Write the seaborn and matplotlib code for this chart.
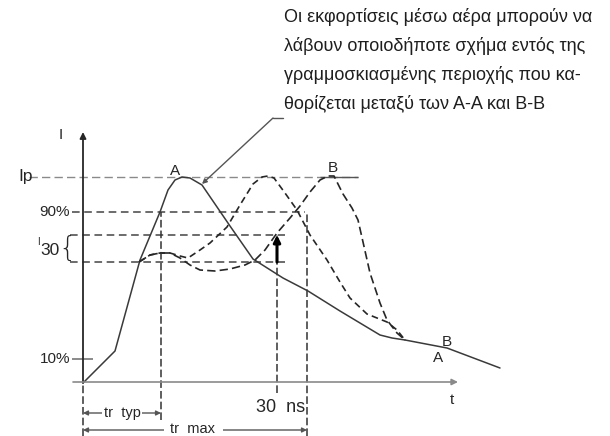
import matplotlib
matplotlib.use("Agg")
import matplotlib.pyplot as plt
import pandas as pd
import seaborn as sns

# Schematic drawing units: time grows to the right, current grows upward,
# origin at the start of the discharge.
curve_a_t = [0, 32, 57, 77, 85, 92, 99, 107, 119, 147, 170, 200, 225, 257, 297, 309, 322]
curve_a_i = [0, 32, 123, 171, 193, 203, 206, 205, 198, 157, 124, 105, 92, 72, 48, 45, 43]

curve_mid_t = [56, 67, 77, 87, 97, 105, 117, 127, 144, 157, 170, 179, 185, 191, 202,
               214, 227, 244, 257, 267, 284, 304, 314, 322]
curve_mid_i = [121, 128, 130, 130, 127, 125, 133, 140, 156, 178, 199, 206, 207, 205, 190,
               173, 148, 123, 101, 85, 69, 61, 53, 43]

curve_b_t = [56, 67, 77, 87, 97, 107, 117, 132, 147, 162, 172, 182, 194, 207, 217, 227,
             237, 245, 251, 260, 269, 275, 280, 287, 297, 304, 314, 322]
curve_b_i = [121, 128, 130, 130, 125, 118, 113, 112, 114, 118, 123, 133, 150, 165, 177, 191,
             203, 207, 207, 189, 175, 163, 141, 110, 80, 63, 50, 43]

tail_t = [322, 364, 417]
tail_i = [43, 35, 15]

# Reference current levels
level_ip = 206
level_90 = 171
level_i30_high = 148
level_i30_low = 121
level_10 = 24

# Reference instants
t_rise_typ = 78
t_30ns = 194
t_rise_max = 224

note_lines = [
    "Οι εκφορτίσεις μέσω αέρα μπορούν να",
    "λάβουν οποιοδήποτε σχήμα εντός της",
    "γραμμοσκιασμένης περιοχής που κα-",
    "θορίζεται μεταξύ των Α-Α και Β-Β",
]

sns.set_theme(style="white")
plt.rcParams["font.family"] = ["Liberation Sans", "DejaVu Sans"]

fig = plt.figure(figsize=(6.1, 4.36), dpi=100)
ax = fig.add_axes([0, 0, 1, 1])
ax.set_xlim(-83, 527)
ax.set_ylim(-53, 383)
ax.axis("off")

ink = "#262626"
grey = "#8a8a8a"

# Level lines
ax.hlines(level_ip, -54, 275, color=grey, lw=1.0, linestyles=(0, (6, 3)))
ax.hlines(level_ip, 237, 275, color="#555555", lw=1.0)
ax.hlines(level_90, -11, 222, color="#444444", lw=1.1, linestyles=(0, (5, 3)))
ax.hlines(level_i30_high, -13, 202, color="#444444", lw=1.1, linestyles=(0, (5, 3)))
ax.hlines(level_i30_low, -13, 202, color="#444444", lw=1.1, linestyles=(0, (5, 3)))
ax.hlines(level_10, -11, 10, color=grey, lw=1.4)

# Vertical markers
ax.vlines(t_rise_typ, -37, level_90, color="#333333", lw=1.1, linestyles=(0, (5, 2)))
ax.vlines(t_30ns, -10, level_i30_high, color="#333333", lw=1.1, linestyles=(0, (5, 2)))
ax.vlines(t_rise_max, -53, level_90, color="#333333", lw=1.1, linestyles=(0, (5, 2)))
ax.vlines(0, -53, 0, color="#333333", lw=1.1, linestyles=(0, (5, 2)))

# Axes with arrows
ax.annotate("", xy=(0, 251), xytext=(0, 0),
            arrowprops=dict(arrowstyle="-|>", color=ink, lw=1.3,
                            mutation_scale=9, shrinkA=0, shrinkB=0))
ax.annotate("", xy=(375, 1), xytext=(-10, 1),
            arrowprops=dict(arrowstyle="-|>", color=grey, lw=1.2,
                            mutation_scale=9, shrinkA=0, shrinkB=0))

# Waveforms
sns.lineplot(x=curve_a_t, y=curve_a_i, sort=False, estimator=None,
             color="#3a3a3a", lw=1.1, ax=ax)
sns.lineplot(x=tail_t, y=tail_i, sort=False, estimator=None,
             color="#3a3a3a", lw=1.1, ax=ax)
sns.lineplot(x=curve_mid_t, y=curve_mid_i, sort=False, estimator=None,
             color=ink, lw=1.2, linestyle=(0, (4, 2.5)), ax=ax)
sns.lineplot(x=curve_b_t, y=curve_b_i, sort=False, estimator=None,
             color=ink, lw=1.2, linestyle=(0, (5, 2.5)), ax=ax)

# I30 arrow at 30 ns
ax.annotate("", xy=(t_30ns, level_i30_high), xytext=(t_30ns, level_i30_low),
            arrowprops=dict(arrowstyle="-|>", color="black", lw=2.2,
                            mutation_scale=10, shrinkA=0, shrinkB=0))

# Leader from the note to the waveform
ax.plot([200, 190], [265, 265], color="#555555", lw=1.0)
ax.annotate("", xy=(119, 199), xytext=(190, 265),
            arrowprops=dict(arrowstyle="-|>", color="#555555", lw=1.0,
                            mutation_scale=7, shrinkA=0, shrinkB=0))

# Rise time brackets
for y, t_end in [(-30, t_rise_typ), (-47, t_rise_max)]:
    ax.annotate("", xy=(0, y), xytext=(t_end / 2, y),
                arrowprops=dict(arrowstyle="-|>", color="#555555", lw=1.0,
                                mutation_scale=7, shrinkA=0, shrinkB=0))
    ax.annotate("", xy=(t_end, y), xytext=(t_end / 2, y),
                arrowprops=dict(arrowstyle="-|>", color="#555555", lw=1.0,
                                mutation_scale=7, shrinkA=0, shrinkB=0))
ax.text(t_rise_typ / 2, -30, "tr  typ", ha="center", va="center", fontsize=10.5,
        color=ink, bbox=dict(fc="white", ec="none", pad=1.5))
ax.text(110, -46, "tr  max", ha="center", va="center", fontsize=10.5,
        color=ink, bbox=dict(fc="white", ec="none", pad=5))

# Labels
lab = dict(color=ink, fontsize=11)
ax.text(-22, 248, "I", ha="center", va="center", **lab)
ax.text(-50, level_ip, "Ip", ha="right", va="center", fontsize=12.5, color=ink)
ax.text(-13, level_90, "90%", ha="right", va="center", **lab)
ax.text(-13, level_10, "10%", ha="right", va="center", **lab)
ax.text(-23, 133, "30", ha="right", va="center", fontsize=12.5, color=ink)
ax.text(-43, 141, "I", ha="right", va="center", fontsize=7, color=ink)
ax.text(-16, 134, "{", ha="center", va="center", fontsize=20, color=ink,
        fontfamily="DejaVu Sans", fontweight="light")
ax.text(222, -24, "30  ns", ha="right", va="center", fontsize=13, color=ink)
ax.text(369, -17, "t", ha="center", va="center", **lab)
ax.text(92, 212, "A", ha="center", va="center", **lab)
ax.text(250, 215, "B", ha="center", va="center", **lab)
ax.text(364, 41, "B", ha="center", va="center", **lab)
ax.text(355, 25, "A", ha="center", va="center", **lab)

# Explanatory note
for k, line in enumerate(note_lines):
    ax.text(201, 361 - 29 * k, line, ha="left", va="baseline", fontsize=13,
            color="#1e1e1e")

fig.savefig("out.png", dpi=100)
